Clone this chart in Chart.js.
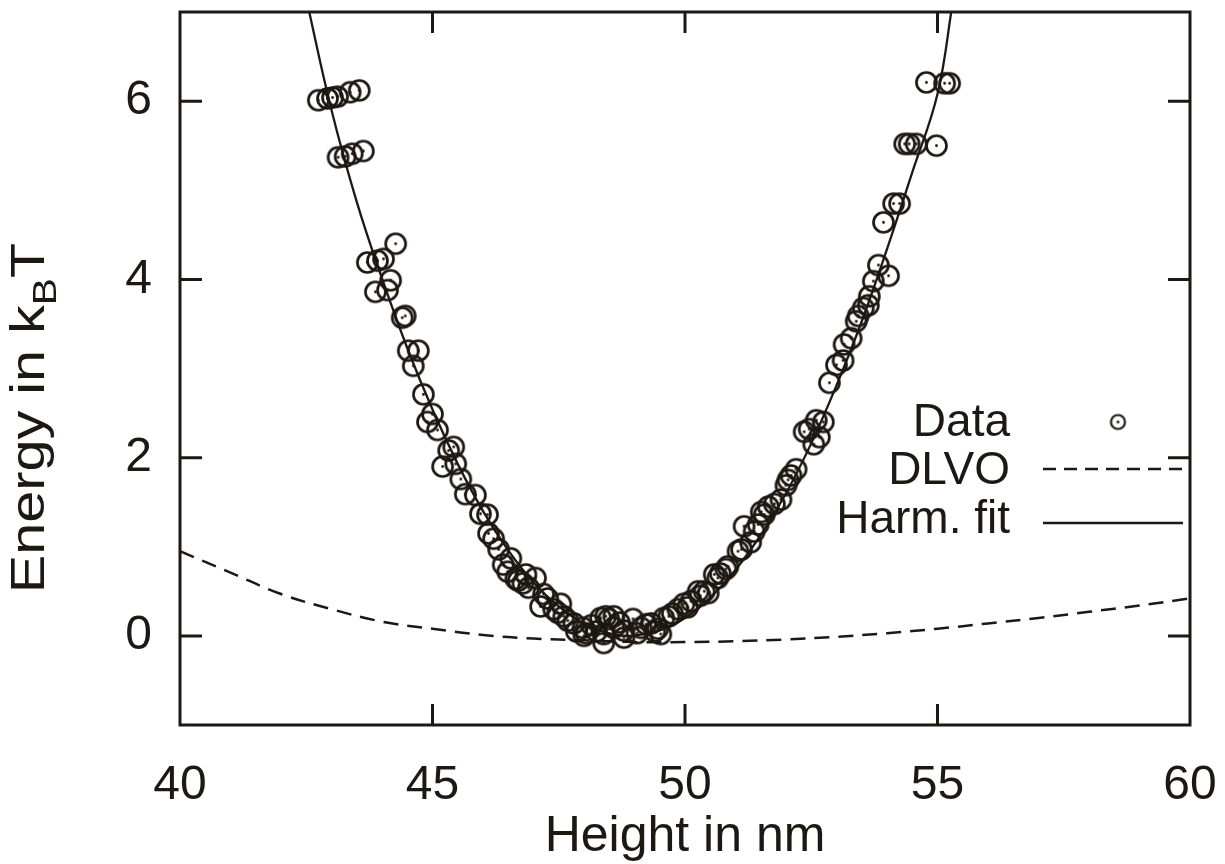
<!DOCTYPE html>
<html lang="en">
<head>
<meta charset="UTF-8">
<title>Energy vs height</title>
<script src="https://cdn.jsdelivr.net/npm/chart.js"></script>
<style>
  html, body { margin: 0; padding: 0; background: #fff; }
  #wrap { width: 1225px; height: 864px; }
</style>
</head>
<body>
<div id="wrap"><canvas id="myChart" width="1225" height="864"></canvas></div>
<script>
// measured points (height in nm, energy in kBT)
const dataX = [42.74, 42.92, 43.02, 43.12, 43.37, 43.55, 43.13, 43.27, 43.41, 43.63,
  43.71, 43.91, 44.03, 44.27, 44.17, 43.87, 44.11, 44.40, 44.46, 44.52,
  44.72, 44.62, 44.82, 45.00, 44.90, 45.10, 45.32, 45.42, 45.20, 45.46,
  45.56, 45.65, 45.85, 45.95, 46.09, 46.11, 46.21, 46.31, 46.55, 46.49,
  46.65, 46.85, 47.04, 46.90, 46.79, 47.14, 47.28, 47.54, 47.48, 47.68,
  47.80, 47.98, 48.00, 48.04, 48.33, 48.49, 48.59, 48.39, 48.39, 48.43,
  48.59, 48.79, 48.79, 48.97, 49.13, 49.23, 49.33, 49.46, 49.52, 49.58,
  49.68, 49.86, 49.98, 50.12, 50.26, 50.38, 50.46, 50.58, 50.65, 50.81,
  50.85, 51.05, 51.12, 51.17, 51.37, 51.51, 51.57, 51.65, 51.77, 51.90,
  52.00, 52.04, 52.20, 52.36, 52.46, 52.66, 52.60, 52.74, 52.86, 53.00,
  53.13, 53.15, 53.29, 53.39, 53.43, 53.53, 53.63, 53.65, 53.73, 53.83,
  54.03, 53.93, 54.13, 54.25, 54.35, 54.44, 54.58, 54.98, 54.78, 55.14,
  55.24, 46.40, 46.70, 47.20, 47.40, 47.60, 47.85, 48.15, 48.25, 48.70,
  49.05, 49.40, 49.75, 50.05, 50.30, 50.70, 51.30, 51.45, 52.10, 52.55];
const dataY = [6.01, 6.03, 6.04, 6.05, 6.10, 6.12, 5.37, 5.38, 5.41, 5.44,
  4.19, 4.21, 4.23, 4.40, 3.99, 3.86, 3.88, 3.57, 3.59, 3.20,
  3.20, 3.03, 2.71, 2.49, 2.40, 2.31, 2.08, 2.12, 1.90, 1.93,
  1.76, 1.59, 1.58, 1.37, 1.36, 1.15, 1.09, 0.97, 0.87, 0.72,
  0.64, 0.69, 0.65, 0.54, 0.59, 0.33, 0.42, 0.36, 0.26, 0.17,
  0.14, 0.09, 0.00, 0.03, 0.20, 0.19, 0.09, 0.02, -0.08, 0.22,
  0.22, 0.06, -0.02, 0.19, 0.09, 0.13, 0.14, 0.08, 0.02, 0.20,
  0.22, 0.30, 0.36, 0.39, 0.50, 0.50, 0.48, 0.69, 0.65, 0.75,
  0.78, 0.95, 0.97, 1.23, 1.17, 1.39, 1.36, 1.45, 1.48, 1.53,
  1.69, 1.75, 1.87, 2.29, 2.32, 2.23, 2.42, 2.40, 2.84, 3.04,
  3.09, 3.27, 3.34, 3.53, 3.59, 3.68, 3.71, 3.81, 3.98, 4.16,
  4.04, 4.64, 4.85, 4.85, 5.52, 5.52, 5.52, 5.50, 6.21, 6.20,
  6.20, 0.80, 0.62, 0.47, 0.30, 0.22, 0.05, 0.12, 0.05, 0.15,
  0.03, 0.05, 0.25, 0.32, 0.45, 0.70, 1.05, 1.25, 1.80, 2.15];

// DLVO curve
const dlvoX = [40, 41, 42, 43, 44, 45, 46, 47, 48, 49, 50, 51, 52, 53, 54, 55, 56, 57, 58, 59, 60];
const dlvoY = [0.95, 0.71, 0.47, 0.30, 0.16, 0.08, 0.01, -0.03, -0.05, -0.07, -0.07,
  -0.06, -0.04, -0.01, 0.03, 0.08, 0.14, 0.20, 0.27, 0.34, 0.42];

// harmonic fit
const fitX = [42.5, 43, 43.5, 44, 44.5, 45, 45.5, 46, 46.5, 47, 47.5, 48, 48.5, 48.9,
  49.5, 50, 50.5, 51, 51.5, 52, 52.5, 53, 53.5, 54, 54.5, 55, 55.3];
const fitY = [7.15, 5.9, 4.87, 4.01, 3.23, 2.54, 1.93, 1.40, 0.96, 0.60, 0.33, 0.135, 0.027, 0,
  0.06, 0.20, 0.43, 0.74, 1.13, 1.60, 2.16, 2.81, 3.53, 4.34, 5.20, 6.08, 7.1];

const xTicks = [40, 45, 50, 55, 60];
const yTicks = [0, 2, 4, 6];

const ink = '#1e1812';
const font = '"Liberation Sans", Arial, Helvetica, sans-serif';

function pts(xs, ys) {
  return xs.map((x, i) => ({ x: x, y: ys[i] }));
}

// open circle with a dot in the middle
function ringDot(r, lw) {
  const c = document.createElement('canvas');
  const s = Math.ceil(2 * r + lw + 2);
  c.width = s; c.height = s;
  const g = c.getContext('2d');
  g.strokeStyle = ink;
  g.lineWidth = lw;
  g.beginPath();
  g.arc(s / 2, s / 2, r, 0, Math.PI * 2);
  g.stroke();
  g.fillStyle = ink;
  g.beginPath();
  g.arc(s / 2, s / 2, 1.4, 0, Math.PI * 2);
  g.fill();
  return c;
}
const marker = ringDot(10, 2.7);
const smallMarker = ringDot(7, 2.2);

const decor = {
  id: 'decor',
  afterDatasetsDraw(chart) {
    const ctx = chart.ctx;
    const a = chart.chartArea;
    const xs = chart.scales.x, ys = chart.scales.y;
    ctx.save();
    ctx.strokeStyle = ink;
    ctx.lineWidth = 3;
    ctx.strokeRect(a.left, a.top, a.right - a.left, a.bottom - a.top);
    ctx.beginPath();
    xTicks.slice(1, -1).forEach(v => {
      const p = xs.getPixelForValue(v);
      ctx.moveTo(p, a.bottom); ctx.lineTo(p, a.bottom - 21);
      ctx.moveTo(p, a.top); ctx.lineTo(p, a.top + 21);
    });
    yTicks.forEach(v => {
      const p = ys.getPixelForValue(v);
      ctx.moveTo(a.left, p); ctx.lineTo(a.left + 22, p);
      ctx.moveTo(a.right, p); ctx.lineTo(a.right - 22, p);
    });
    ctx.stroke();
    ctx.restore();
  },
  afterDraw(chart) {
    const ctx = chart.ctx;
    const a = chart.chartArea;
    ctx.save();
    ctx.fillStyle = ink;
    ctx.textBaseline = 'alphabetic';

    // x title
    ctx.font = '50px ' + font;
    ctx.textAlign = 'center';
    ctx.fillText('Height in nm', (a.left + a.right) / 2, 851);

    // y title with subscript B
    ctx.save();
    ctx.translate(44, 418);
    ctx.rotate(-Math.PI / 2);
    ctx.scale(1.2, 1);
    ctx.textAlign = 'left';
    const big = '48px ' + font, sub = '34px ' + font;
    ctx.font = big;
    const w1 = ctx.measureText('Energy in k').width;
    const w3 = ctx.measureText('T').width;
    ctx.font = sub;
    const w2 = ctx.measureText('B').width;
    let x0 = -(w1 + w2 + w3) / 2;
    ctx.font = big;
    ctx.fillText('Energy in k', x0, 0);
    ctx.font = sub;
    ctx.fillText('B', x0 + w1, 12);
    ctx.font = big;
    ctx.fillText('T', x0 + w1 + w2, 0);
    ctx.restore();

    // legend inside the plot
    ctx.font = '46px ' + font;
    ctx.textAlign = 'right';
    ctx.fillText('Data', 1010, 436);
    ctx.fillText('DLVO', 1010, 484);
    ctx.fillText('Harm. fit', 1010, 533);
    ctx.drawImage(smallMarker, 1118 - smallMarker.width / 2, 422 - smallMarker.height / 2);
    ctx.strokeStyle = ink;
    ctx.lineWidth = 2.4;
    ctx.setLineDash([13, 8]);
    ctx.beginPath();
    ctx.moveTo(1043, 469); ctx.lineTo(1183, 469);
    ctx.stroke();
    ctx.setLineDash([]);
    ctx.beginPath();
    ctx.moveTo(1043, 523); ctx.lineTo(1183, 523);
    ctx.stroke();
    ctx.restore();
  }
};

const ctx = document.getElementById('myChart');
new Chart(ctx, {
  type: 'scatter',
  data: {
    datasets: [
      {
        label: 'Data',
        data: pts(dataX, dataY),
        pointStyle: marker,
        pointRadius: 10,
        showLine: false,
        order: 1
      },
      {
        type: 'line',
        label: 'DLVO',
        data: pts(dlvoX, dlvoY),
        borderColor: ink,
        borderWidth: 2.5,
        borderDash: [15, 9],
        pointRadius: 0,
        tension: 0.4,
        fill: false,
        order: 2
      },
      {
        type: 'line',
        label: 'Harm. fit',
        data: pts(fitX, fitY),
        borderColor: ink,
        borderWidth: 2.3,
        pointRadius: 0,
        tension: 0.4,
        fill: false,
        order: 2
      }
    ]
  },
  options: {
    responsive: false,
    animation: false,
    events: [],
    layout: { padding: { top: 12, right: 35, left: 0, bottom: 0 } },
    plugins: {
      legend: { display: false },
      tooltip: { enabled: false }
    },
    scales: {
      x: {
        type: 'linear',
        min: 40, max: 60,
        afterBuildTicks: s => { s.ticks = xTicks.map(v => ({ value: v })); },
        afterFit: s => { s.height = 139; s.paddingLeft = 0; s.paddingRight = 0; },
        grid: { display: false, drawTicks: false },
        border: { display: false },
        ticks: { color: ink, font: { family: font, size: 48 }, padding: 32, maxRotation: 0 }
      },
      y: {
        type: 'linear',
        min: -1, max: 7,
        afterBuildTicks: s => { s.ticks = yTicks.map(v => ({ value: v })); },
        afterFit: s => { s.width = 180; s.paddingTop = 0; s.paddingBottom = 0; },
        grid: { display: false, drawTicks: false },
        border: { display: false },
        ticks: { color: ink, font: { family: font, size: 48 }, padding: 28 }
      }
    }
  },
  plugins: [decor]
});
</script>
</body>
</html>
